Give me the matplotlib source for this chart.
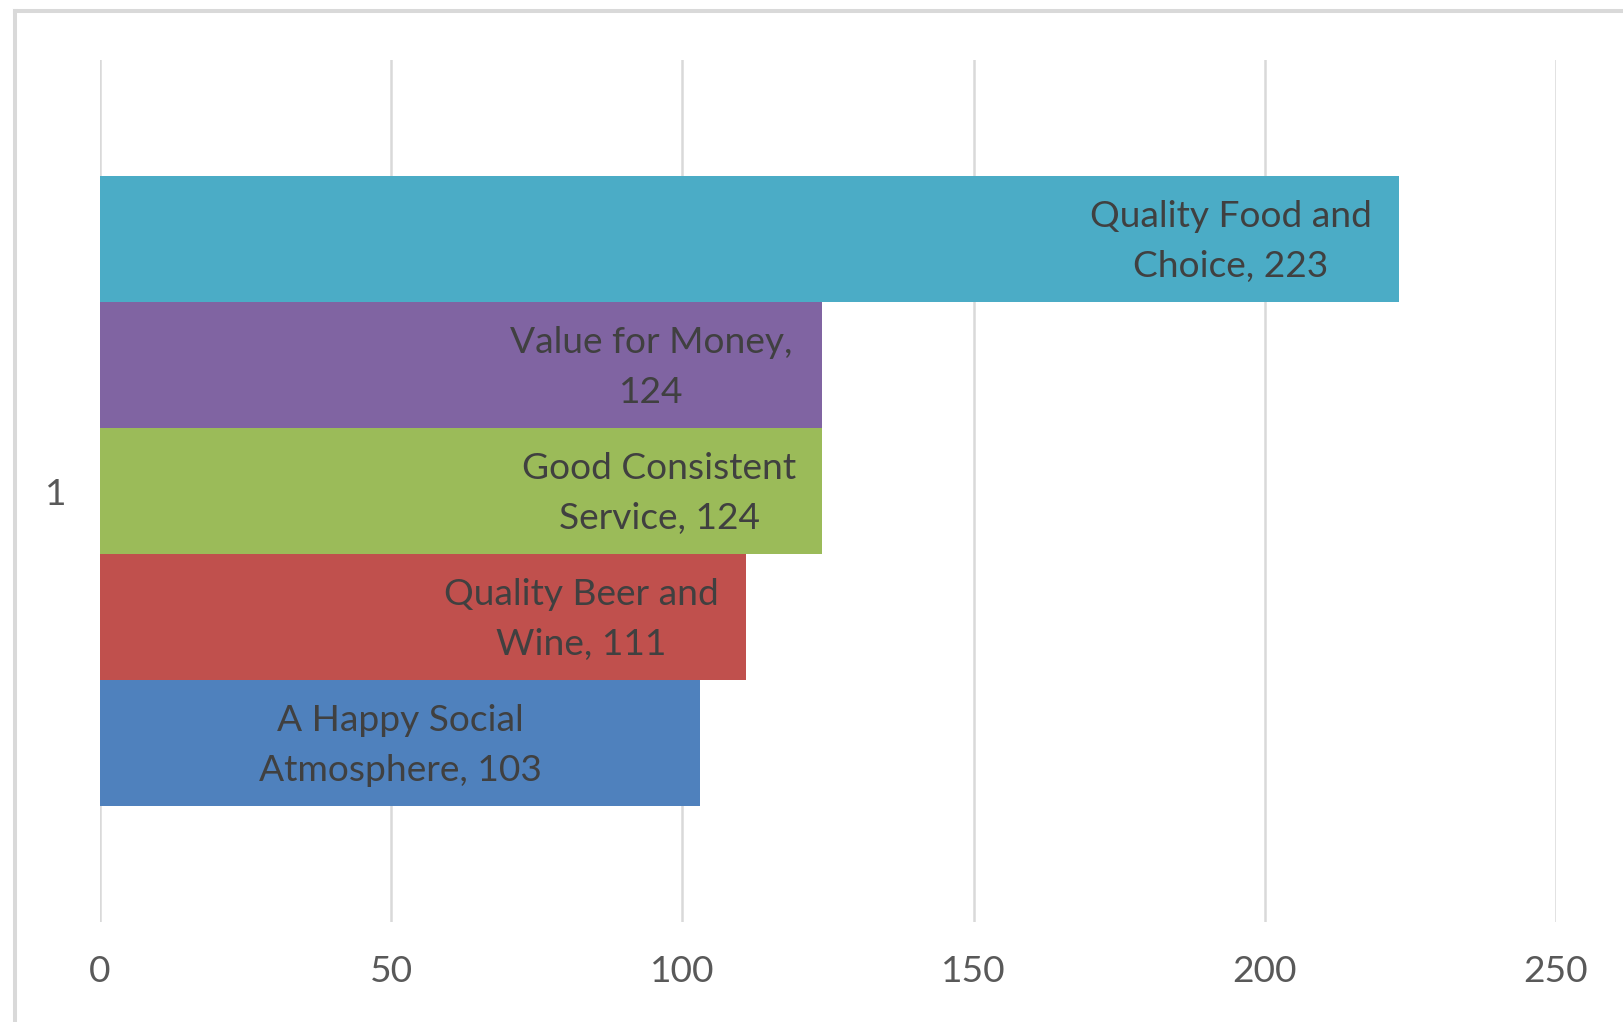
import matplotlib
matplotlib.use("Agg")
import matplotlib.pyplot as plt
from matplotlib.lines import Line2D

# Data (bottom to top)
categories = ["A Happy Social Atmosphere", "Quality Beer and Wine", "Good Consistent Service",
              "Value for Money", "Quality Food and Choice"]
values = [103, 111, 124, 124, 223]
colors = ["#4F81BD", "#C0504D", "#9BBB59", "#8064A2", "#4BACC6"]
first_line_words = [3, 3, 2, 3, 3]
label_offsets_px = [299, 165, 163, 171, 168]
x_ticks = [0, 50, 100, 150, 200, 250]
y_tick_labels = ["1"]

FONT = "Lato"
plt.rcParams['font.family'] = [FONT, 'DejaVu Sans']

W, H = 1624, 1022
fig = plt.figure(figsize=(W / 100, H / 100), dpi=100)
fig.patch.set_facecolor("white")

# chart border
border_c = "#D9D9D9"
fig.add_artist(Line2D([15 / W, 1.0], [1 - 11 / H, 1 - 11 / H], color=border_c, lw=2.9,
                      transform=fig.transFigure))
fig.add_artist(Line2D([15 / W, 15 / W], [0, 1 - 11 / H], color=border_c, lw=2.9,
                      transform=fig.transFigure))

ax = fig.add_axes([100 / W, (H - 922) / H, 1456 / W, 862 / H])
ax.set_xlim(0, 250)
ax.set_ylim(-0.5, 0.5)

n = len(values)
bh = 0.1462
for i, (v, c) in enumerate(zip(values, colors)):
    yc = (i - (n - 1) / 2) * bh
    ax.barh(yc, v, height=bh, color=c, zorder=3, edgecolor="none")
    words = f"{categories[i]}, {v}".split(" ")
    k = first_line_words[i]
    txt = " ".join(words[:k]) + "\n" + " ".join(words[k:])
    ax.annotate(txt, xy=(v, yc), xytext=(-label_offsets_px[i] * 0.72, -2),
                textcoords="offset points", ha="center", va="center",
                fontsize=26.7, color="#404040", linespacing=1.62, zorder=4)

ax.set_xticks(x_ticks)
ax.set_yticks([0])
ax.set_yticklabels(y_tick_labels)
ax.grid(axis="x", color="#D9D9D9", lw=1.8, zorder=0)
ax.grid(axis="y", visible=False)
for s in ax.spines.values():
    s.set_visible(False)
ax.tick_params(axis="both", length=0, labelsize=26.7, labelcolor="#595959")
ax.tick_params(axis="x", pad=24)
ax.tick_params(axis="y", pad=24)

fig.savefig("out.png", dpi=100, facecolor="white")
